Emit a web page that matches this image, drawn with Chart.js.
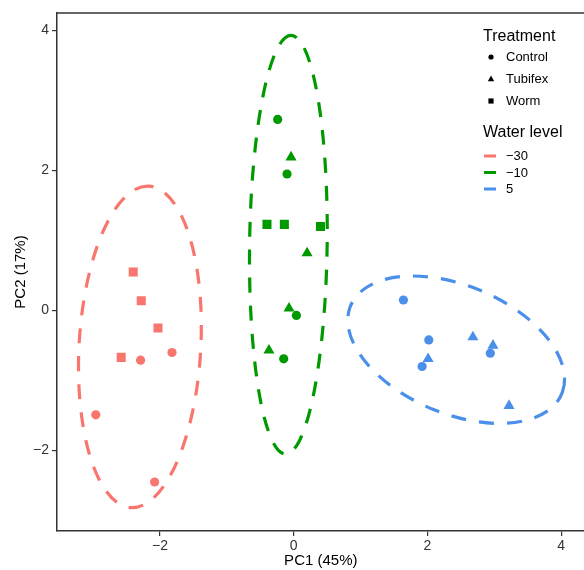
<!DOCTYPE html>
<html>
<head>
<meta charset="utf-8">
<script src="https://cdn.jsdelivr.net/npm/chart.js@4"></script>
<style>
  html, body { margin: 0; padding: 0; background: #fff; overflow: hidden; }
  #wrap { position: relative; width: 584px; height: 570px; overflow: hidden; }
</style>
</head>
<body>
<div id="wrap"><canvas id="pcaChart" width="591" height="570"></canvas></div>
<script>
// water level -30
const pc1Low = [-2.40, -2.28, -2.03, -2.58, -2.29, -1.82, -2.96, -2.08];
const pc2Low = [0.55, 0.14, -0.25, -0.67, -0.71, -0.60, -1.49, -2.45];
const trtLow = ['Worm', 'Worm', 'Worm', 'Worm', 'Control', 'Control', 'Control', 'Control'];
// water level -10
const pc1Mid = [-0.24, -0.04, -0.10, -0.40, -0.14, 0.40, 0.20, -0.07, 0.04, -0.37, -0.15];
const pc2Mid = [2.73, 2.19, 1.95, 1.23, 1.23, 1.20, 0.82, 0.03, -0.07, -0.57, -0.69];
const trtMid = ['Control', 'Tubifex', 'Control', 'Worm', 'Worm', 'Worm', 'Tubifex', 'Tubifex', 'Control', 'Tubifex', 'Control'];
// water level 5
const pc1High = [1.64, 2.02, 2.01, 1.92, 2.68, 2.98, 2.94, 3.22];
const pc2High = [0.15, -0.42, -0.69, -0.80, -0.38, -0.50, -0.61, -1.36];
const trtHigh = ['Control', 'Control', 'Tubifex', 'Control', 'Tubifex', 'Tubifex', 'Control', 'Tubifex'];

const waterLevels = ['\u221230', '\u221210', '5'];
const treatments = ['Control', 'Tubifex', 'Worm'];

// stat_ellipse outlines: centre, semi-axes and angle (degrees) in PC units
const ellCx = [-2.30, -0.08, 2.43];
const ellCy = [-0.52, 0.94, -0.56];
const ellA = [2.30, 2.99, 1.70];
const ellB = [0.91, 0.58, 0.92];
const ellAngle = [86.6, 89.2, -21];

const xTicks = [-2, 0, 2, 4];
const yTicks = [-2, 0, 2, 4];

const colors = ['#F8766D', '#009A00', '#4A8FEA'];
const shapeOf = { Control: 'circle', Tubifex: 'triangle', Worm: 'rect' };
const sizeOf = { Control: 4.6, Tubifex: 6.4, Worm: 6.4 };
const FONT = "'Liberation Sans', Arial, sans-serif";

function makeSet(label, xs, ys, trt, color) {
    return {
        label: label,
        data: xs.map((x, i) => ({ x: x, y: ys[i] })),
        pointStyle: trt.map(t => shapeOf[t]),
        pointRadius: trt.map(t => sizeOf[t]),
        pointHoverRadius: trt.map(t => sizeOf[t]),
        backgroundColor: color,
        borderColor: color,
        borderWidth: 0,
        showLine: false
    };
}

const ellipsePlugin = {
    id: 'ellipses',
    beforeDatasetsDraw(chart) {
        const { ctx, chartArea, scales: { x, y } } = chart;
        const sx = x.getPixelForValue(1) - x.getPixelForValue(0);
        const sy = y.getPixelForValue(0) - y.getPixelForValue(1);
        ctx.save();
        ctx.beginPath();
        ctx.rect(chartArea.left, chartArea.top, chartArea.right - chartArea.left, chartArea.bottom - chartArea.top);
        ctx.clip();
        for (let i = 0; i < ellCx.length; i++) {
            ctx.save();
            ctx.beginPath();
            ctx.translate(x.getPixelForValue(ellCx[i]), y.getPixelForValue(ellCy[i]));
            ctx.scale(sx, -sy);
            ctx.rotate(ellAngle[i] * Math.PI / 180);
            ctx.ellipse(0, 0, ellA[i], ellB[i], 0, 0, Math.PI * 2);
            ctx.restore();
            ctx.strokeStyle = colors[i];
            ctx.lineWidth = 3.2;
            ctx.setLineDash([15, 13]);
            ctx.stroke();
        }
        ctx.restore();
    }
};

const framePlugin = {
    id: 'frame',
    afterDraw(chart) {
        const { ctx, chartArea } = chart;
        ctx.save();
        ctx.strokeStyle = '#333';
        ctx.lineWidth = 1.5;
        ctx.beginPath();
        ctx.moveTo(chartArea.left, chartArea.top);
        ctx.lineTo(chartArea.right, chartArea.top);
        ctx.stroke();

        // legend
        ctx.fillStyle = '#000';
        ctx.textBaseline = 'middle';
        ctx.textAlign = 'left';
        ctx.font = '16px ' + FONT;
        ctx.fillText('Treatment', 483, 37);
        ctx.fillText('Water level', 483, 133);
        ctx.font = '13px ' + FONT;
        const rowY = [57, 79, 101];
        treatments.forEach((t, i) => {
            ctx.fillStyle = '#000';
            const cx = 491, cy = rowY[i];
            ctx.beginPath();
            if (t === 'Control') {
                ctx.arc(cx, cy, 2.6, 0, Math.PI * 2);
            } else if (t === 'Tubifex') {
                ctx.moveTo(cx, cy - 3.4);
                ctx.lineTo(cx + 3.2, cy + 2.3);
                ctx.lineTo(cx - 3.2, cy + 2.3);
                ctx.closePath();
            } else {
                ctx.rect(cx - 2.6, cy - 2.6, 5.2, 5.2);
            }
            ctx.fill();
            ctx.fillText(t, 506, cy);
        });
        const lineY = [156, 172.5, 189];
        waterLevels.forEach((w, i) => {
            ctx.strokeStyle = colors[i];
            ctx.lineWidth = 3;
            ctx.beginPath();
            ctx.moveTo(484, lineY[i]);
            ctx.lineTo(496, lineY[i]);
            ctx.stroke();
            ctx.fillStyle = '#000';
            ctx.fillText(w, 506, lineY[i] + 0.5);
        });
        ctx.restore();
    }
};

const tickLabel = v => (v < 0 ? '\u2212' + Math.abs(v) : String(v));

new Chart(document.getElementById('pcaChart'), {
    type: 'scatter',
    data: {
        datasets: [
            makeSet(waterLevels[0], pc1Low, pc2Low, trtLow, colors[0]),
            makeSet(waterLevels[1], pc1Mid, pc2Mid, trtMid, colors[1]),
            makeSet(waterLevels[2], pc1High, pc2High, trtHigh, colors[2])
        ]
    },
    options: {
        responsive: false,
        animation: false,
        layout: { padding: { top: 13, right: 0, left: 0, bottom: 0 } },
        plugins: {
            legend: { display: false },
            tooltip: { enabled: false }
        },
        scales: {
            x: {
                type: 'linear',
                min: -3.54,
                max: 4.35,
                afterFit: s => { s.height = 39; },
                afterBuildTicks: s => { s.ticks = xTicks.map(v => ({ value: v })); },
                border: { display: true, color: '#333', width: 1.5 },
                grid: { drawOnChartArea: false, drawTicks: true, tickLength: 5, color: '#333', lineWidth: 1.2 },
                ticks: { color: '#333', font: { family: FONT, size: 14 }, padding: 2, callback: tickLabel, maxRotation: 0 },
                title: { display: true, text: 'PC1 (45%)', color: '#000', font: { family: FONT, size: 15 }, padding: { top: 0, bottom: 0 } }
            },
            y: {
                type: 'linear',
                min: -3.15,
                max: 4.25,
                afterFit: s => { s.width = 57; },
                afterBuildTicks: s => { s.ticks = yTicks.map(v => ({ value: v })); },
                border: { display: true, color: '#333', width: 1.5 },
                grid: { drawOnChartArea: false, drawTicks: true, tickLength: 5, color: '#333', lineWidth: 1.2 },
                ticks: { color: '#333', font: { family: FONT, size: 14 }, padding: 3, callback: tickLabel },
                title: { display: true, text: 'PC2 (17%)', color: '#000', font: { family: FONT, size: 15 }, padding: { top: 12, bottom: 0 } }
            }
        }
    },
    plugins: [ellipsePlugin, framePlugin]
});
</script>
</body>
</html>
